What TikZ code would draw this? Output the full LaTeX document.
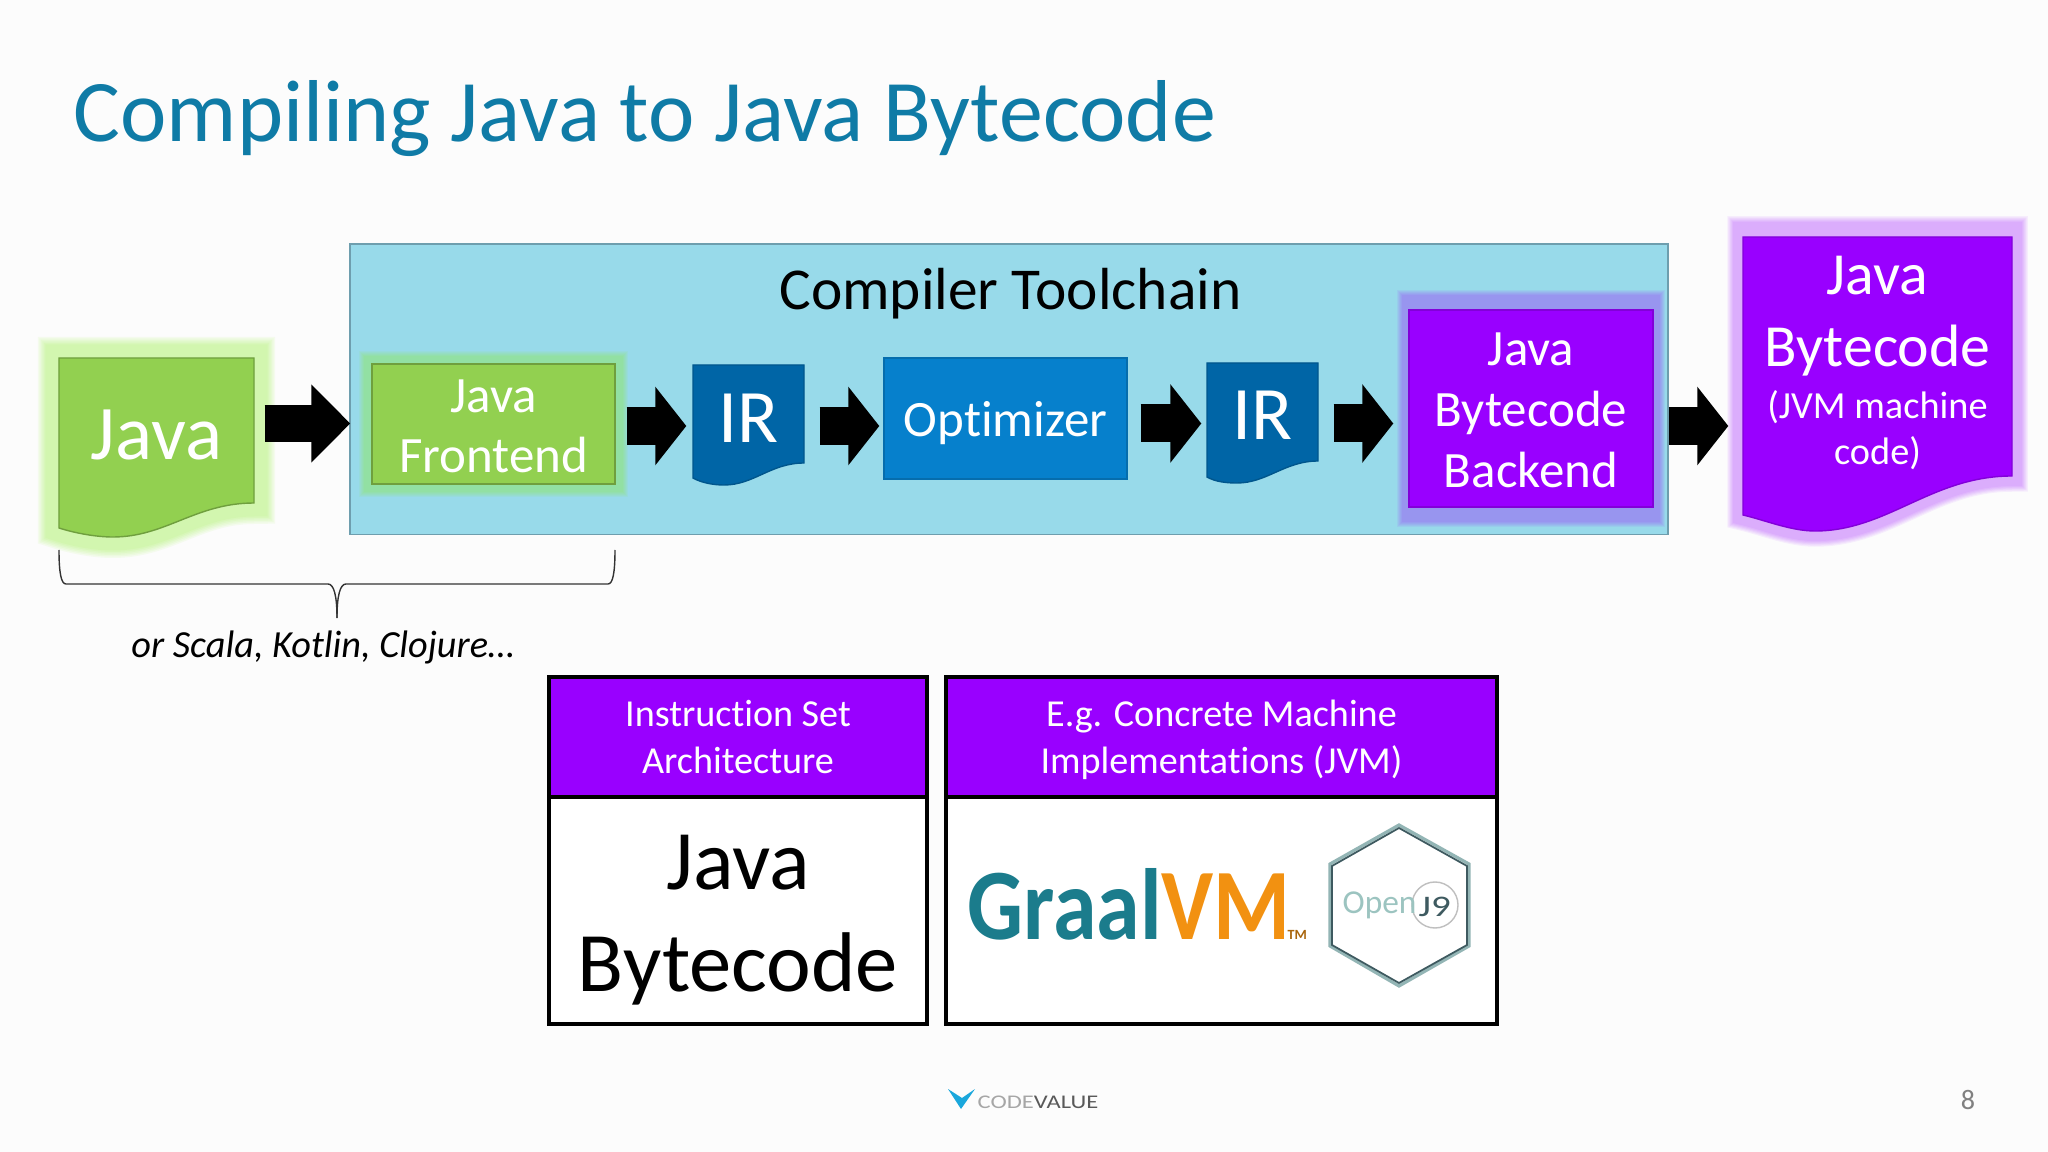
\documentclass[tikz,border=0pt]{standalone}
\usepackage{fontspec}
\setmainfont{Carlito}[Ligatures=NoCommon]
\usetikzlibrary{arrows.meta}

\definecolor{titleblue}{HTML}{0F7BA6}
\definecolor{toolblue}{HTML}{98DAEA}
\definecolor{toolline}{HTML}{6E9EAE}
\definecolor{javagreen}{HTML}{92D050}
\definecolor{greenline}{HTML}{6F9F3E}
\definecolor{greenglow}{HTML}{8CF528}
\definecolor{irblue}{HTML}{0065A6}
\definecolor{optblue}{HTML}{0680CC}
\definecolor{jvmpurple}{HTML}{9900FF}
\definecolor{graalteal}{HTML}{1B7C8C}
\definecolor{graalorange}{HTML}{F29111}
\definecolor{hexlight}{HTML}{93B5B5}
\definecolor{hexdark}{HTML}{3E5A60}
\definecolor{opengrey}{HTML}{9CC4C0}
\definecolor{logocyan}{HTML}{1AA7DC}

\tikzset{
  box/.style={draw, inner sep=0pt, align=center, text=white, minimum height=1.2cm},
  doctext/.style={inner sep=0pt, align=center, text=white},
  arrowblock/.style={line width=0.38cm, -{Triangle[length=0.31cm,width=0.77cm]}},
  tablehead/.style={draw=black, line width=0.04cm, fill=jvmpurple, text=white, inner sep=0pt, align=center, minimum height=1.2cm, font=\fontsize{10.85}{13.3}\selectfont},
  tablebody/.style={draw=black, line width=0.04cm, fill=white, inner sep=0pt, minimum height=2.27cm},
  bracket/.style={line width=0.4pt, draw=black!80},
}

% document outline: x left, x right, y top, y right end, x lowest, y lowest, y left end
\newcommand{\docpath}[7]{(#1,#3) -- (#2,#3) -- (#2,#4)
  .. controls ({#2-(#2-#1)*0.30},#4) and ({#5+(#2-#1)*0.27},#6) .. (#5,#6)
  .. controls ({#5-(#2-#1)*0.09},#6) and ({#1+(#2-#1)*0.08},{#7+0.05}) .. (#1,#7) -- cycle}

% soft edge made of stacked wide strokes: colour, path, opacity, width factor
\newcommand{\glowpath}[4]{\foreach \w/\a in {0.42/#3,0.39/#3,0.36/#3,0.33/#3,0.30/#3,0.27/#3}
  {\path[draw=#1, line width=#4*\w cm, draw opacity=\a, line join=miter] #2;}}

% taller first line, moves the text block down a little
\newcommand{\lift}[1]{\rule{0pt}{#1}}

\begin{document}
\begin{tikzpicture}[x=1cm,y=-1cm]
\useasboundingbox (0,0) rectangle (20.48,11.52);
\fill[white!99!black] (0,0) rectangle (20.48,11.52);

\node[anchor=base west, inner sep=0pt, text=titleblue, font=\fontsize{25}{30}\selectfont] (title) at (0.73,1.42) {Compiling Java to Java Bytecode};

\node[draw=toolline, fill=toolblue, inner sep=0pt, minimum width=13.18cm, minimum height=2.905cm] (toolchain) at (10.09,3.8925) {};
\node[inner sep=0pt, font=\fontsize{16.9}{20}\selectfont] (toolchainlabel) at (10.105,2.935) {Compiler Toolchain};

%glows
\glowpath{greenglow}{\docpath{0.59}{2.54}{3.58}{5.03}{1.13}{5.37}{5.28}}{0.07}{1}
\glowpath{greenglow}{(3.72,3.64) rectangle (6.15,4.84)}{0.07}{0.6}
\glowpath{jvmpurple}{(14.09,3.02) rectangle (16.53,5.15)}{0.06}{0.55}
\glowpath{jvmpurple}{\docpath{17.43}{20.12}{2.32}{4.76}{18.15}{5.31}{5.15}}{0.06}{0.75}

%documents
\draw[greenline, fill=javagreen] \docpath{0.59}{2.54}{3.58}{5.03}{1.13}{5.37}{5.28};
\draw[irblue!85!black, fill=irblue] \docpath{6.93}{8.04}{3.65}{4.63}{7.24}{4.85}{4.78};
\draw[irblue!85!black, fill=irblue] \docpath{12.07}{13.18}{3.63}{4.61}{12.37}{4.83}{4.77};
\draw[jvmpurple!85!black, fill=jvmpurple] \docpath{17.43}{20.12}{2.37}{4.76}{18.15}{5.31}{5.15};

\node[doctext, minimum width=1.95cm, font=\fontsize{22}{26}\selectfont] (java) at (1.565,4.35) {Java};
\node[doctext, minimum width=1.11cm, font=\fontsize{21.5}{26}\selectfont] (irfront) at (7.485,4.18) {IR};
\node[doctext, minimum width=1.11cm, font=\fontsize{21.5}{26}\selectfont] (irback) at (12.625,4.15) {IR};
\node[doctext, minimum width=2.69cm, font=\fontsize{17}{20.4}\selectfont] (bytecode) at (18.775,3.16) {Java\\Bytecode};
\node[doctext, font=\fontsize{10.9}{13}\selectfont] (bytecodenote) at (18.775,4.30) {(JVM machine\\code)};

%boxes
\node[box, draw=greenline, fill=javagreen, minimum width=2.43cm, font=\fontsize{14.5}{17}\selectfont] (frontend) at (4.935,4.24) {\lift{10.5pt}Java\\Frontend};
\node[box, draw=optblue!85!black, fill=optblue, minimum width=2.43cm, minimum height=1.21cm, font=\fontsize{14.5}{17}\selectfont] (optimizer) at (10.055,4.185) {\lift{12.6pt}Optimizer};
\node[box, draw=jvmpurple!85!black, fill=jvmpurple, minimum width=2.44cm, minimum height=1.97cm, font=\fontsize{14.5}{17.4}\selectfont] (backend) at (15.31,4.085) {\lift{10.5pt}Java\\Bytecode\\Backend};

%arrows
\coordinate (rowa) at (0,4.235);
\coordinate (rowb) at (0,4.26);
\draw[arrowblock, line width=0.37cm, -{Triangle[length=0.39cm,width=0.76cm]}, shorten <=0.10cm, shorten >=0.21cm] (java.east |- rowa) -- (frontend.west |- rowa);
\draw[arrowblock, shorten <=0.11cm, shorten >=0.06cm] (frontend.east |- rowb) -- (irfront.west |- rowb);
\draw[arrowblock, shorten <=0.15cm, shorten >=0.04cm] (irfront.east |- rowb) -- (optimizer.west |- rowb);
\draw[arrowblock, shorten <=0.13cm, shorten >=0.05cm] (optimizer.east |- rowa) -- (irback.west |- rowa);
\draw[arrowblock, shorten <=0.15cm, shorten >=0.15cm] (irback.east |- rowa) -- (backend.west |- rowa);
\draw[arrowblock, shorten >=0.14cm] (toolchain.east |- rowb) -- (bytecode.west |- rowb);

%brace
\coordinate (bracel) at (0.59,5.50);
\coordinate (bracem) at (3.37,6.18);
\coordinate (bracer) at (6.15,5.50);
\draw[bracket] (bracel) .. controls (0.59,5.72) and (0.61,5.84) .. (0.66,5.84) -- (3.28,5.84) .. controls (3.34,5.84) and (3.37,5.96) .. (bracem);
\draw[bracket] (bracer) .. controls (6.15,5.72) and (6.13,5.84) .. (6.08,5.84) -- (3.46,5.84) .. controls (3.40,5.84) and (3.37,5.96) .. (bracem);
\node[inner sep=0pt, anchor=base, font=\fontsize{10.9}{13}\selectfont\itshape] (others) at (3.23,6.58) {or Scala, Kotlin, Clojure…};

%table
\node[tablehead, minimum width=3.78cm] (isahead) at (7.38,7.37) {\lift{11.3pt}Instruction Set\\\strut Architecture};
\node[tablebody, minimum width=3.78cm] (isabody) at (7.38,9.105) {};
\node[inner sep=0pt, align=center, font=\fontsize{24.1}{29}\selectfont] (isatext) at (7.38,9.20) {Java\\Bytecode};
\node[tablehead, minimum width=5.51cm] (implhead) at (12.215,7.37) {\lift{11.3pt}E.g. Concrete Machine\\\strut Implementations (JVM)};
\node[tablebody, minimum width=5.51cm] (implbody) at (12.215,9.105) {};

%logos
\node[anchor=base west, inner sep=0pt, font=\fontsize{28.8}{30}\selectfont\bfseries] (graal) at (9.67,9.39) {\scalebox{.87}[1]{\textcolor{graalteal}{Graal}\textcolor{graalorange}{VM}}};
\node[anchor=base west, inner sep=0pt, text=graalorange!70!black, font=\fontsize{4}{5}\bfseries\selectfont] (graaltm) at (12.87,9.39) {TM};
\draw[hexlight, line width=0.9pt] (13.99,8.25) -- (14.69,8.64) -- (14.69,9.46) -- (13.99,9.86) -- (13.30,9.46) -- (13.30,8.64) -- cycle;
\draw[hexdark, line width=0.5pt] (13.99,8.28) -- (14.67,8.66) -- (14.67,9.45) -- (13.99,9.83) -- (13.32,9.45) -- (13.32,8.66) -- cycle;
\node[draw=black!25, circle, minimum size=0.46cm, inner sep=0pt] (jninering) at (14.35,9.05) {};
\node[inner sep=0pt, anchor=base west, text=opengrey, font=\fontsize{9.5}{10}\selectfont] (open) at (13.42,9.13) {Open};
\node[inner sep=0pt, anchor=base west, text=hexdark, font=\fontsize{8.5}{10}\selectfont] (jnine) at (14.18,9.17) {\scalebox{1.3}[1]{J9}};

%footer
\fill[logocyan] (9.48,10.89) -- (9.61,11.09) -- (9.75,10.89) -- (9.62,10.98) -- cycle;
\node[inner sep=0pt, anchor=west, font=\fontsize{5.5}{7}\selectfont] (codevalue) at (9.77,11.02) {\scalebox{1.27}[1]{\textcolor{black!35}{CODE}\textcolor{black!65}{VALUE}}};
\node[inner sep=0pt, text=black!50, font=\fontsize{8}{10}\selectfont] (pagenum) at (19.68,11.00) {8};
\end{tikzpicture}
\end{document}
